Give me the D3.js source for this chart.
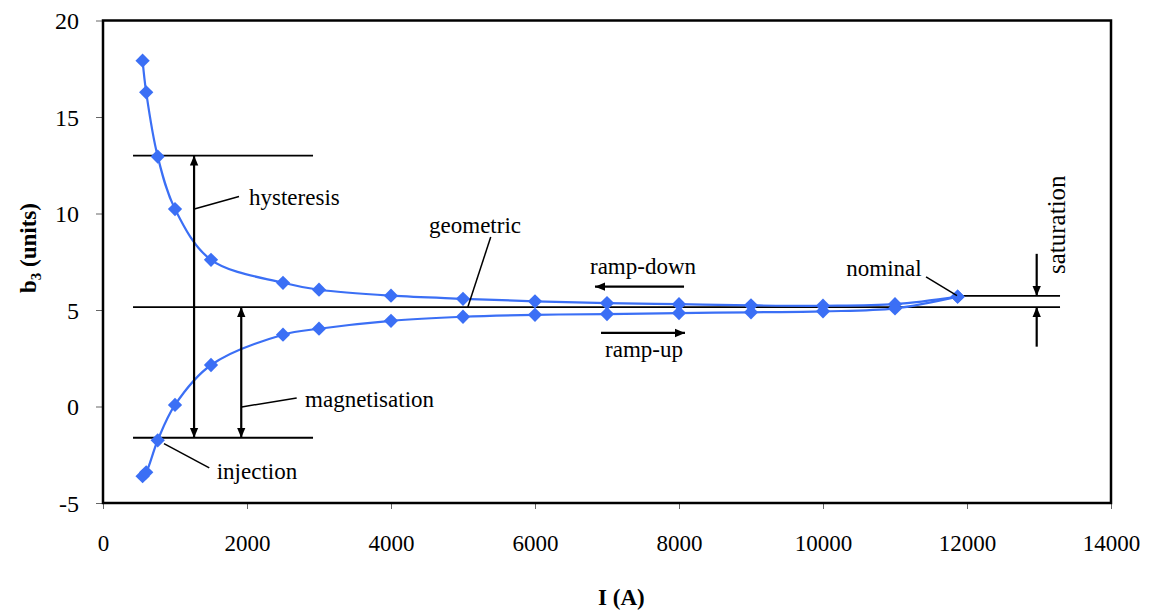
<!DOCTYPE html>
<html>
<head>
<meta charset="utf-8">
<script src="https://cdn.jsdelivr.net/npm/d3@7"></script>
<style>
  html, body { margin: 0; padding: 0; background: #fff; }
  svg { display: block; }
  svg text { font-family: Liberation Serif; }
</style>
</head>
<body>
<svg id="chart" width="1159" height="612" font-family="Liberation Serif"></svg>
<script>
// Current (A) at each measured point
const current = [550, 600, 760, 1000, 1500, 2500, 3000, 4000, 5000, 6000, 7000, 8000, 9000, 10000, 11000, 11870];
// b3 on the ramp-down branch (units)
const rampDown = [17.92, 16.28, 12.95, 10.23, 7.6, 6.41, 6.05, 5.74, 5.58, 5.45, 5.36, 5.3, 5.24, 5.22, 5.3, 5.69];
// b3 on the ramp-up branch (units)
const rampUp = [-3.61, -3.41, -1.75, 0.08, 2.15, 3.72, 4.03, 4.44, 4.65, 4.75, 4.79, 4.84, 4.88, 4.93, 5.08, 5.69];

const xTicks = [0, 2000, 4000, 6000, 8000, 10000, 12000, 14000];
const yTicks = [-5, 0, 5, 10, 15, 20];

// Reference levels (units)
const levelTop = 13.0;        // top of hysteresis span
const levelInjection = -1.62; // injection level
const levelGeometric = 5.15;  // geometric b3
const levelNominal = 5.73;    // b3 at nominal current

const FONT = "Liberation Serif";

const svg = d3.select("#chart");
const m = { left: 103, right: 1111, top: 20.5, bottom: 503 };

const x = d3.scaleLinear().domain([0, 14000]).range([m.left, m.right]);
const y = d3.scaleLinear().domain([-5, 20]).range([m.bottom, m.top]);

const blue = "#3b6ff5";

// arrowhead marker
const defs = svg.append("defs");
defs.append("marker")
  .attr("id", "head")
  .attr("viewBox", "0 0 10 10")
  .attr("refX", 10).attr("refY", 5)
  .attr("markerWidth", 10).attr("markerHeight", 10)
  .attr("markerUnits", "userSpaceOnUse")
  .attr("orient", "auto-start-reverse")
  .append("path").attr("d", "M0,0.8 L10,5 L0,9.2 Z").attr("fill", "#000");

// text helper: every label gets the serif face set directly
function label(parent, size, weight) {
  return parent.append("text")
    .attr("font-family", FONT)
    .attr("font-size", size)
    .attr("font-weight", weight || "normal")
    .attr("fill", "#000");
}

// axes built by d3, tick labels restyled
const xAxis = d3.axisBottom(x).tickValues(xTicks).tickSize(6).tickPadding(26).tickFormat(d => String(d));
const yAxis = d3.axisLeft(y).tickValues(yTicks).tickSize(7).tickPadding(17).tickFormat(d => String(d));
const gx = svg.append("g").attr("transform", `translate(0,${m.bottom})`).call(xAxis);
const gy = svg.append("g").attr("transform", `translate(${m.left},0)`).call(yAxis);
[gx, gy].forEach(g => {
  g.attr("font-family", FONT);
  g.select(".domain").remove();
  g.selectAll(".tick line").attr("stroke", "#666").attr("stroke-width", 1);
  g.selectAll(".tick text")
    .attr("font-family", FONT)
    .attr("font-size", 23).attr("fill", "#000");
});
gy.selectAll(".tick text").attr("dy", "0.34em").attr("font-size", 24);

// plot frame
svg.append("rect")
  .attr("x", m.left).attr("y", m.top)
  .attr("width", m.right - m.left).attr("height", m.bottom - m.top)
  .attr("fill", "none").attr("stroke", "#000").attr("stroke-width", 2.5);

// axis titles
label(svg, 23, "bold").attr("x", x(7200)).attr("y", 605).attr("text-anchor", "middle").text("I (A)");

const yt = label(svg, 23, "bold")
  .attr("transform", "translate(36,248) rotate(-90)")
  .attr("text-anchor", "middle");
yt.append("tspan").text("b");
yt.append("tspan").attr("font-size", 15).attr("dy", 5).text("3");
yt.append("tspan").attr("dy", -5).text(" (units)");

// reference lines
const refLines = [
  [417, 2917, levelTop],
  [417, 2917, levelInjection],
  [417, 13292, levelGeometric],
  [11870, 13292, levelNominal]
];
svg.append("g").selectAll("line").data(refLines).join("line")
  .attr("x1", d => x(d[0])).attr("x2", d => x(d[1]))
  .attr("y1", d => y(d[2])).attr("y2", d => y(d[2]))
  .attr("stroke", "#000").attr("stroke-width", 1.8);

// data curves
const line = d3.line().curve(d3.curveCatmullRom.alpha(0.5))
  .x(d => x(d[0])).y(d => y(d[1]));
const series = [rampDown, rampUp].map(vals => current.map((c, i) => [c, vals[i]]));

svg.append("g").selectAll("path").data(series).join("path")
  .attr("d", line).attr("fill", "none").attr("stroke", blue).attr("stroke-width", 2.2);

const diamond = d3.symbol().type(d3.symbolDiamond2).size(130);
series.forEach(s => {
  svg.append("g").selectAll("path").data(s).join("path")
    .attr("transform", d => `translate(${x(d[0])},${y(d[1])})`)
    .attr("d", diamond).attr("fill", blue);
});

// arrows: [x1, y1, x2, y2, double-headed]
const arrows = [
  [1265, levelInjection, 1265, levelTop, true],        // hysteresis
  [1920, levelInjection, 1920, levelGeometric, true],  // magnetisation
  [8070, 6.21, 6833, 6.21, false],                     // ramp-down
  [6917, 3.81, 8083, 3.81, false],                     // ramp-up
  [12968, 7.91, 12968, levelNominal, false],           // saturation, from above
  [12968, 3.1, 12968, levelGeometric, false]           // saturation, from below
];
svg.append("g").selectAll("line").data(arrows).join("line")
  .attr("x1", d => x(d[0])).attr("y1", d => y(d[1]))
  .attr("x2", d => x(d[2])).attr("y2", d => y(d[3]))
  .attr("stroke", "#000").attr("stroke-width", 2.2)
  .attr("marker-end", "url(#head)")
  .attr("marker-start", d => d[4] ? "url(#head)" : null);

// leader lines from labels
const leaders = [
  [1268, 10.23, 1889, 10.88],   // hysteresis
  [1926, -0.02, 2690, 0.44],    // magnetisation
  [847, -1.92, 1476, -3.18],    // injection
  [5065, 5.13, 5385, 8.78],     // geometric
  [11431, 6.72, 11861, 5.74]    // nominal
];
svg.append("g").selectAll("line").data(leaders).join("line")
  .attr("x1", d => x(d[0])).attr("y1", d => y(d[1]))
  .attr("x2", d => x(d[2])).attr("y2", d => y(d[3]))
  .attr("stroke", "#000").attr("stroke-width", 1.5);

// annotation labels: [text, x, y, anchor]
const labels = [
  ["hysteresis", 2028, 10.45, "start"],
  ["magnetisation", 2806, -0.04, "start"],
  ["injection", 1579, -3.78, "start"],
  ["geometric", 5167, 9.0, "middle"],
  ["ramp-down", 7500, 6.88, "middle"],
  ["ramp-up", 7514, 2.58, "middle"],
  ["nominal", 10847, 6.78, "middle"]
];
const gl = svg.append("g");
labels.forEach(d => {
  label(gl, 23).attr("x", x(d[1])).attr("y", y(d[2])).attr("text-anchor", d[3]).text(d[0]);
});

label(svg, 25)
  .attr("transform", `translate(${x(13361)},${y(9.42)}) rotate(-90)`)
  .attr("text-anchor", "middle")
  .text("saturation");
</script>
</body>
</html>
